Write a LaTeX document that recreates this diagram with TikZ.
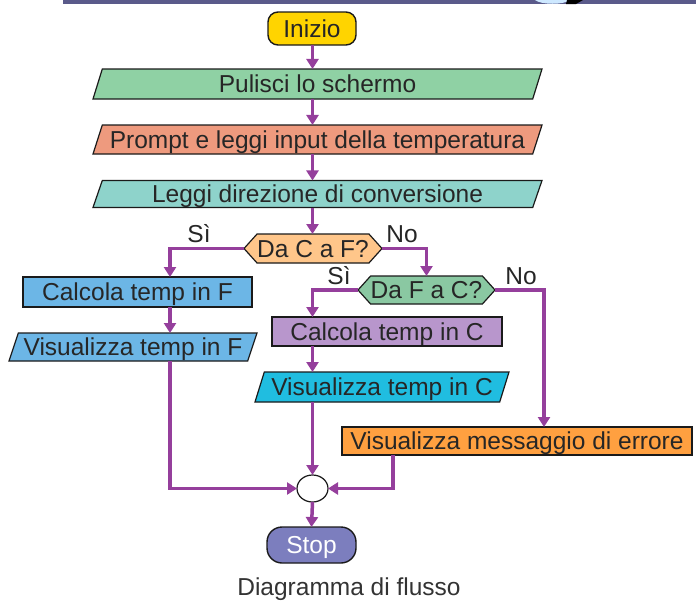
\documentclass[tikz,border=0pt]{standalone}
\usepackage{fontspec}
\setmainfont{Liberation Sans}
\usetikzlibrary{arrows.meta,shapes.geometric,shapes.symbols}

\definecolor{flow}{HTML}{953F9C}
\definecolor{edge}{HTML}{1A1A1A}
\definecolor{txt}{HTML}{262626}
\definecolor{caption}{HTML}{333333}
\definecolor{band}{HTML}{5A5A8A}
\definecolor{glow}{HTML}{CDE8FF}
\definecolor{cStart}{HTML}{FFD400}
\definecolor{cClear}{HTML}{8FD1A4}
\definecolor{cPrompt}{HTML}{EE9A7E}
\definecolor{cDir}{HTML}{8ED3CB}
\definecolor{cQone}{HTML}{FFC68A}
\definecolor{cQtwo}{HTML}{8AC8A2}
\definecolor{cCalcF}{HTML}{6CB6E6}
\definecolor{cCalcC}{HTML}{B896CC}
\definecolor{cShowC}{HTML}{20BDE0}
\definecolor{cErr}{HTML}{FFA040}
\definecolor{cStop}{HTML}{7C7EBE}

\begin{document}
\begin{tikzpicture}[x=1pt,y=-1pt,
  every node/.style={font=\fontsize{24.5}{28}\selectfont, text=txt,
    inner sep=0pt, outer sep=0pt, text height=17.5pt, text depth=0pt},
  procbox/.style={draw=edge, line width=1.2pt, rectangle, minimum height=29pt},
  iobox/.style={draw=edge, line width=1.2pt, trapezium,
    trapezium left angle=62, trapezium right angle=118,
    trapezium stretches body, minimum height=29pt},
  hexbox/.style={draw=edge, line width=1.2pt, signal, signal to=east and west,
    signal pointer angle=96, minimum height=29pt},
  termbox/.style={draw=edge, line width=1.4pt, rectangle, rounded corners=10pt},
  joinbox/.style={draw=edge, line width=1.2pt, ellipse, fill=white},
  flowline/.style={draw=flow, line width=3.5pt, -{Triangle[length=10pt,width=12pt]}},
  plainline/.style={draw=flow, line width=3.5pt},
]
\useasboundingbox (0,0) rectangle (696,600);

% strip along the top edge
\fill[band] (63,0) rectangle (696,4);
\fill[glow] (535,0) .. controls (541,5) and (564,5) .. (570,0) -- cycle;
\fill[black] (567,0) -- (583,0) -- (576,4) -- (566,4) -- cycle;

% columns used by the connectors
\coordinate (axis) at (312.5,0);
\coordinate (colF) at (170,0);
\coordinate (colE) at (544,0);
\coordinate (colR) at (393,0);

% nodes
\node[termbox, fill=cStart, minimum width=88pt, minimum height=33pt] (start) at (312,28.5) {Inizio};
\node[iobox, fill=cClear, minimum width=449pt, minimum height=30pt] (clear) at (317.5,84) {Pulisci lo schermo};
\node[iobox, fill=cPrompt, minimum width=449pt] (prompt) at (317.5,139.5) {Prompt e leggi input della temperatura};
\node[iobox, fill=cDir, minimum width=449pt, minimum height=27pt] (dir) at (317.5,194) {Leggi direzione di conversione};
\node[hexbox, fill=cQone, minimum width=138pt] (q1) at (313,248.5) {Da C a F?};
\node[hexbox, fill=cQtwo, minimum width=137pt, minimum height=28pt] (q2) at (426.5,290) {Da F a C?};
\node[procbox, fill=cCalcF, minimum width=229pt, minimum height=30pt] (calcF) at (137.5,292) {Calcola temp in F};
\node[iobox, fill=cCalcF, minimum width=248pt, minimum height=28pt] (showF) at (133,347) {Visualizza temp in F};
\node[procbox, fill=cCalcC, minimum width=230pt] (calcC) at (387,331.5) {Calcola temp in C};
\node[iobox, fill=cShowC, minimum width=254pt, minimum height=30pt] (showC) at (382,387) {Visualizza temp in C};
\node[procbox, fill=cErr, minimum width=350pt, minimum height=28pt] (err) at (517,441) {Visualizza messaggio di errore};
\node[joinbox, minimum width=31pt, minimum height=27pt, text height=0pt] (join) at (312.5,488.5) {};
\node[termbox, fill=cStop, text=white, minimum width=89pt, minimum height=36pt, rounded corners=15pt] (stop) at (311.5,545) {Stop};

% branch labels and caption
\node (yes1) at (199,234) {Sì};
\node (no1) at (402,234) {No};
\node (yes2) at (339,276) {Sì};
\node (no2) at (521,276) {No};
\node[text=caption] (title) at (349,586.5) {Diagramma di flusso};

% connectors
\draw[flowline] (start.south -| axis) -- (clear.north -| axis);
\draw[flowline] (clear.south -| axis) -- (prompt.north -| axis);
\draw[flowline] (prompt.south -| axis) -- (dir.north -| axis);
\draw[flowline] (dir.south -| axis) -- (q1.north -| axis);
\draw[flowline] (q1.west) -| (calcF.north -| colF);
\draw[flowline] (q1.east) -| (q2.north);
\draw[flowline] (calcF.south -| colF) -- (showF.north -| colF);
\draw[flowline] (showF.south -| colF) |- (join.west);
\draw[flowline] (q2.west) -| (calcC.north -| axis);
\draw[flowline] (calcC.south -| axis) -- (showC.north -| axis);
\draw[flowline] (showC.south -| axis) -- (join.north);
\draw[flowline] (q2.east) -| (err.north -| colE);
\draw[flowline] (err.south -| colR) |- (join.east);
\draw[flowline] (join.south) -- (stop.north);
\end{tikzpicture}
\end{document}
